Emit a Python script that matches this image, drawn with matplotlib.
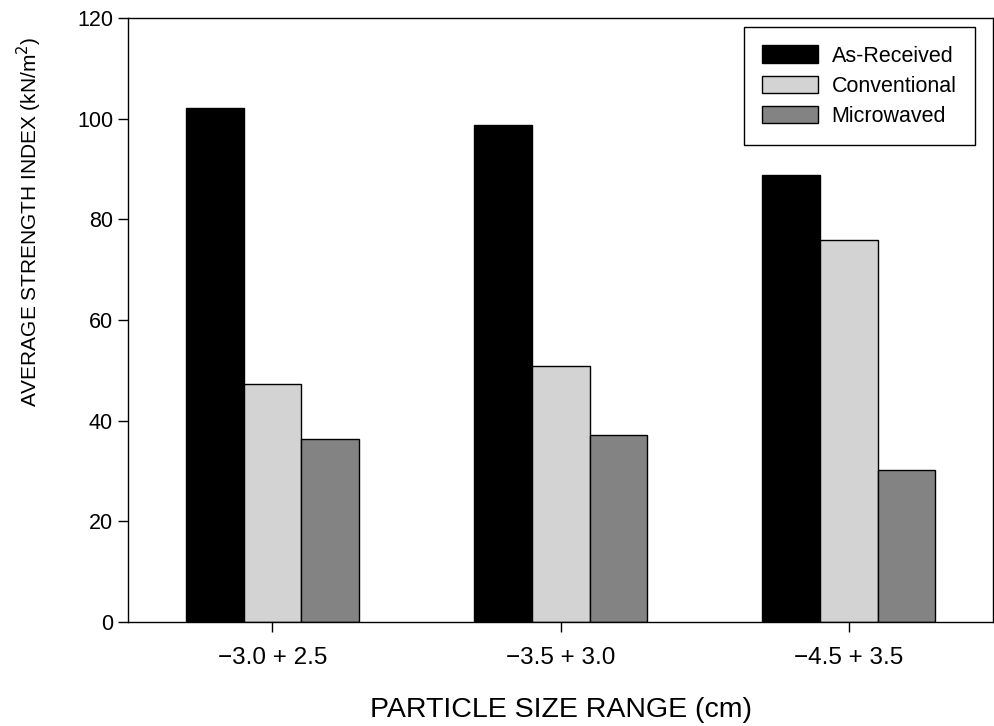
import numpy as np
import matplotlib
matplotlib.use('Agg')
import matplotlib.pyplot as plt

plt.rcParams['font.family'] = ['Liberation Sans', 'DejaVu Sans']

# data
categories = ['\u22123.0 + 2.5', '\u22123.5 + 3.0', '\u22124.5 + 3.5']
series_names = ['As-Received', 'Conventional', 'Microwaved']
as_received = [102.1, 98.8, 88.8]
conventional = [47.2, 50.8, 75.8]
microwaved = [36.3, 37.1, 30.2]
colors = ['#000000', '#d3d3d3', '#838383']

fig = plt.figure(figsize=(9.95, 7.26), dpi=100)
ax = fig.add_axes([0.129, 0.1433, 0.869, 0.832])

x = np.arange(len(categories))
w = 0.2
for i, (vals, name, c) in enumerate(zip([as_received, conventional, microwaved], series_names, colors)):
    ax.bar(x + (i - 1) * w, vals, w, color=c, edgecolor='black', linewidth=1.0, label=name)

ax.set_xlim(-0.5, 2.5)
ax.set_ylim(0, 120)
ax.set_yticks(np.arange(0, 121, 20))
ax.set_xticks(x)
ax.set_xticklabels(categories)
ax.tick_params(axis='both', direction='out', length=7, width=1)
ax.tick_params(axis='x', pad=11, labelsize=17.5)
ax.tick_params(axis='y', pad=4, labelsize=15.5)
for s in ax.spines.values():
    s.set_linewidth(1.0)

ax.set_xlabel('PARTICLE SIZE RANGE (cm)', fontsize=20.5, labelpad=20)
ax.set_ylabel('AVERAGE STRENGTH INDEX (kN/m$^2$)', fontsize=15)
ax.yaxis.set_label_coords(-0.097, 0.662)

leg = ax.legend(loc='upper right', bbox_to_anchor=(0.979, 0.985), fontsize=15.5,
                frameon=True, fancybox=False, edgecolor='black', framealpha=1,
                handlelength=2.56, handleheight=0.88, borderpad=0.85, labelspacing=0.42,
                handletextpad=0.65, borderaxespad=0)
leg.get_frame().set_linewidth(1.0)

fig.savefig('out.png', dpi=100)
